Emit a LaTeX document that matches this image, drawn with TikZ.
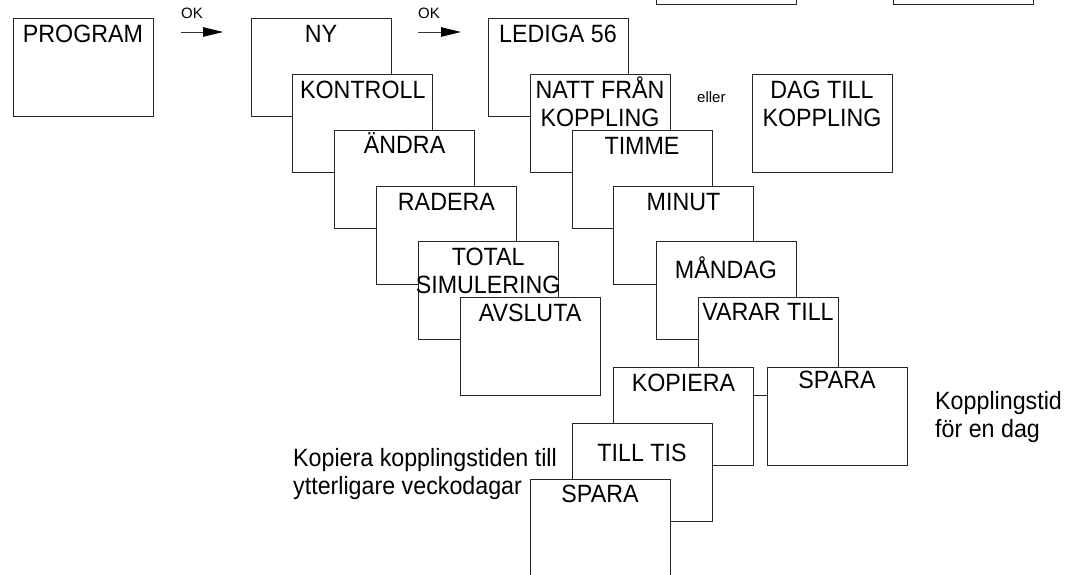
\documentclass[tikz,border=0pt]{standalone}
\usepackage{fontspec}
\setmainfont{Liberation Sans}
\newfontfamily\condfont[FakeStretch=0.93]{Liberation Sans}
\usetikzlibrary{arrows.meta}
\tikzset{
  mbox/.style={draw=black!85, line width=0.9pt, fill=white, minimum width=140pt, minimum height=98pt, anchor=north west, inner sep=0pt, outer sep=0pt},
  lbl/.style={anchor=base, inner sep=0pt, font=\condfont\fontsize{25}{28}\selectfont},
  note/.style={anchor=base west, inner sep=0pt, font=\condfont\fontsize{25}{28}\selectfont},
  small/.style={anchor=base west, inner sep=0pt, font=\fontsize{15}{18}\selectfont},
  okarrow/.style={draw=black!80, line width=0.9pt, -{Triangle[length=20pt,width=9.5pt,color=black]}}
}
\newcommand\mbx[5]{%
  \node[mbox] (#1) at (#2,#3) {};
  \node[lbl] (#1-t) at ([yshift=-#4pt]#1.north) {\begin{tabular}[t]{@{}c@{}}#5\end{tabular}};
}
\begin{document}
\begin{tikzpicture}[x=1pt,y=-1pt]
\useasboundingbox (0,0) rectangle (1065,574);
\clip (0,0) rectangle (1065,574);
% partially visible boxes at the top
\node[mbox] (topa) at (656,-94) {};
\node[mbox] (topb) at (893,-94) {};
% first column
\mbx{program}{13}{18}{24}{PROGRAM}
% OK arrows
\coordinate (a1s) at (181,32);
\coordinate (a1e) at (223,32);
\draw[okarrow] (a1s) -- (a1e);
\node[small] (ok1) at (181,18) {OK};
\coordinate (a2s) at (418,32);
\coordinate (a2e) at (461,32);
\draw[okarrow] (a2s) -- (a2e);
\node[small] (ok2) at (418,18) {OK};
% menu chain
\mbx{ny}{251}{18}{24}{NY}
\mbx{kontroll}{292.8}{74}{24}{KONTROLL}
\mbx{andra}{334.6}{130}{23.5}{ÄNDRA}
\mbx{radera}{376.4}{186}{24}{RADERA}
\mbx{total}{418.2}{241.6}{24}{TOTAL\\SIMULERING}
\mbx{avsluta}{460}{297.5}{24}{AVSLUTA}
% program chain
\mbx{lediga}{488}{18}{24}{LEDIGA 56}
\mbx{natt}{530}{74}{24}{NATT FRÅN\\KOPPLING}
\mbx{timme}{572}{130}{24}{TIMME}
\mbx{minut}{613.5}{186}{24}{MINUT}
\mbx{mandag}{656}{241.6}{37}{MÅNDAG}
\mbx{varar}{698}{297.5}{23}{VARAR TILL}
\mbx{kopiera}{613.5}{367.3}{24.4}{KOPIERA}
\mbx{sparar}{767}{367.3}{21}{SPARA}
\mbx{tilltis}{572}{423}{38}{TILL TIS}
\mbx{sparab}{530}{479}{23}{SPARA}
\mbx{dag}{752}{74}{24}{DAG TILL\\KOPPLING}
% free texts
\node[small] (eller) at (697,102) {eller};
\node[note] (kopl) at (935,409) {\begin{tabular}[t]{@{}l@{}}Kopplingstid\\för en dag\end{tabular}};
\node[note] (kopi) at (293,466.5) {\begin{tabular}[t]{@{}l@{}}Kopiera kopplingstiden till\\ytterligare veckodagar\end{tabular}};
\end{tikzpicture}
\end{document}
